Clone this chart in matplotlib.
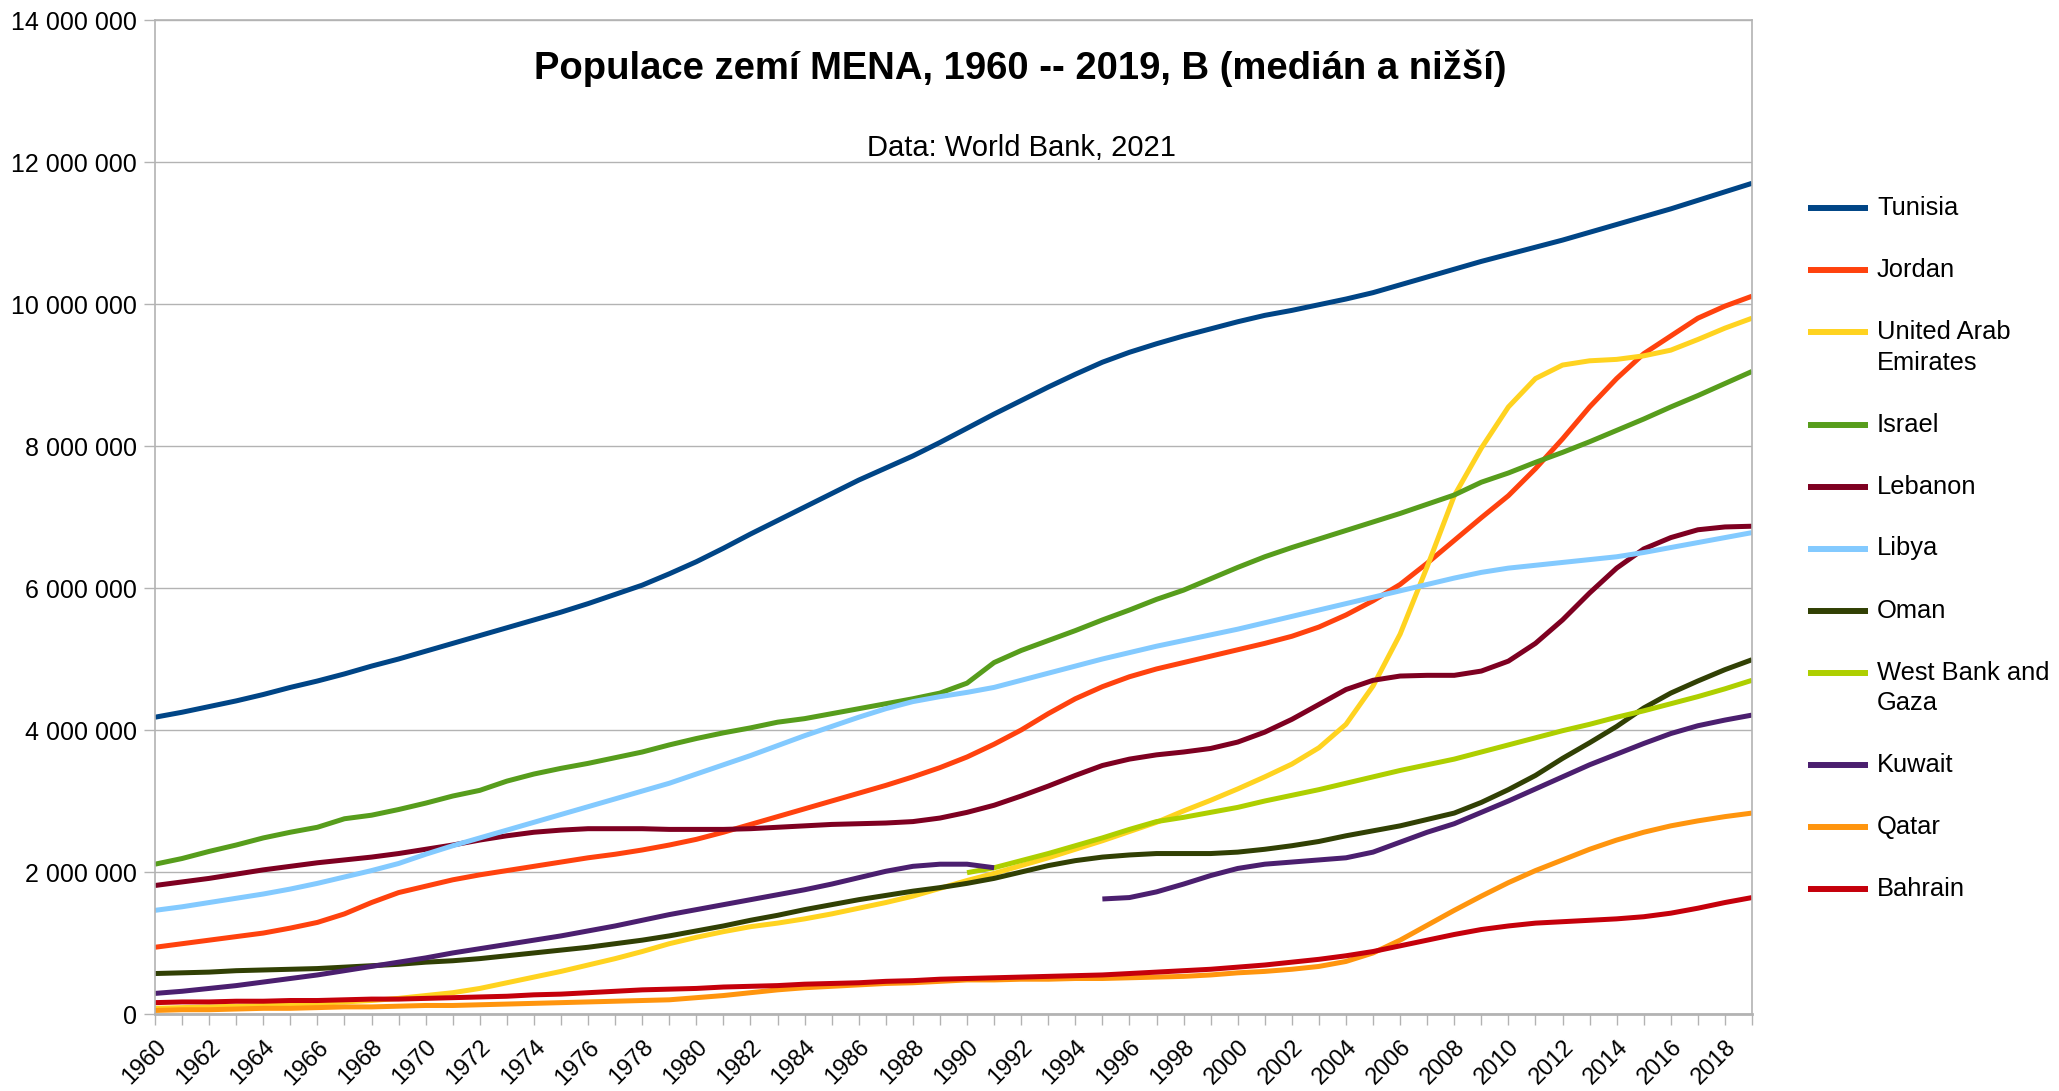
import numpy as np
import matplotlib
matplotlib.use("Agg")
import matplotlib.pyplot as plt
from matplotlib.lines import Line2D
from matplotlib.ticker import FuncFormatter

plt.rcParams['font.family'] = ['Liberation Sans', 'DejaVu Sans']

nan = np.nan
years = list(range(1960, 2020))

# populations in millions
tunisia = [4.18, 4.25, 4.33, 4.41, 4.50, 4.60, 4.69, 4.79, 4.90, 5.00,
           5.11, 5.22, 5.33, 5.44, 5.55, 5.66, 5.78, 5.91, 6.04, 6.20,
           6.37, 6.56, 6.76, 6.95, 7.14, 7.33, 7.52, 7.69, 7.86, 8.05,
           8.25, 8.45, 8.64, 8.83, 9.01, 9.18, 9.32, 9.44, 9.55, 9.65,
           9.75, 9.84, 9.91, 9.99, 10.07, 10.16, 10.27, 10.38, 10.49, 10.60,
           10.70, 10.80, 10.90, 11.01, 11.12, 11.23, 11.34, 11.46, 11.58, 11.70]
jordan = [0.94, 0.99, 1.04, 1.09, 1.14, 1.21, 1.29, 1.41, 1.57, 1.71,
          1.80, 1.89, 1.96, 2.02, 2.08, 2.14, 2.20, 2.25, 2.31, 2.38,
          2.46, 2.56, 2.67, 2.78, 2.89, 3.00, 3.11, 3.22, 3.34, 3.47,
          3.62, 3.80, 4.00, 4.23, 4.44, 4.61, 4.75, 4.86, 4.95, 5.04,
          5.13, 5.22, 5.32, 5.45, 5.62, 5.82, 6.05, 6.35, 6.67, 6.99,
          7.30, 7.68, 8.10, 8.55, 8.95, 9.30, 9.55, 9.80, 9.97, 10.11]
uae = [0.08, 0.09, 0.10, 0.11, 0.12, 0.13, 0.15, 0.17, 0.19, 0.22,
       0.26, 0.30, 0.36, 0.44, 0.52, 0.60, 0.69, 0.78, 0.88, 0.99,
       1.08, 1.16, 1.23, 1.28, 1.34, 1.41, 1.49, 1.57, 1.66, 1.77,
       1.88, 1.98, 2.09, 2.20, 2.32, 2.44, 2.57, 2.70, 2.86, 3.01,
       3.17, 3.34, 3.52, 3.75, 4.08, 4.62, 5.35, 6.30, 7.30, 7.97,
       8.55, 8.95, 9.14, 9.20, 9.22, 9.27, 9.35, 9.50, 9.66, 9.80]
israel = [2.11, 2.19, 2.29, 2.38, 2.48, 2.56, 2.63, 2.75, 2.80, 2.88,
          2.97, 3.07, 3.15, 3.28, 3.38, 3.46, 3.53, 3.61, 3.69, 3.79,
          3.88, 3.96, 4.03, 4.11, 4.16, 4.23, 4.30, 4.37, 4.44, 4.52,
          4.66, 4.95, 5.12, 5.26, 5.40, 5.55, 5.69, 5.84, 5.97, 6.13,
          6.29, 6.44, 6.57, 6.69, 6.81, 6.93, 7.05, 7.18, 7.31, 7.49,
          7.62, 7.77, 7.91, 8.06, 8.22, 8.38, 8.55, 8.71, 8.88, 9.05]
lebanon = [1.81, 1.86, 1.91, 1.97, 2.03, 2.08, 2.13, 2.17, 2.21, 2.26,
           2.32, 2.38, 2.45, 2.51, 2.56, 2.59, 2.61, 2.61, 2.61, 2.60,
           2.60, 2.60, 2.61, 2.63, 2.65, 2.67, 2.68, 2.69, 2.71, 2.76,
           2.84, 2.94, 3.07, 3.21, 3.36, 3.50, 3.59, 3.65, 3.69, 3.74,
           3.83, 3.97, 4.15, 4.36, 4.57, 4.70, 4.76, 4.77, 4.77, 4.83,
           4.97, 5.22, 5.55, 5.93, 6.28, 6.55, 6.71, 6.82, 6.86, 6.87]
libya = [1.46, 1.51, 1.57, 1.63, 1.69, 1.76, 1.84, 1.93, 2.02, 2.12,
         2.25, 2.37, 2.48, 2.59, 2.70, 2.81, 2.92, 3.03, 3.14, 3.25,
         3.38, 3.51, 3.64, 3.78, 3.92, 4.05, 4.18, 4.30, 4.40, 4.47,
         4.53, 4.60, 4.70, 4.80, 4.90, 5.00, 5.09, 5.18, 5.26, 5.34,
         5.42, 5.51, 5.60, 5.69, 5.78, 5.87, 5.96, 6.05, 6.14, 6.22,
         6.28, 6.32, 6.36, 6.40, 6.44, 6.50, 6.57, 6.64, 6.71, 6.78]
oman = [0.57, 0.58, 0.59, 0.61, 0.62, 0.63, 0.64, 0.66, 0.68, 0.70,
        0.73, 0.75, 0.78, 0.82, 0.86, 0.90, 0.94, 0.99, 1.04, 1.10,
        1.17, 1.24, 1.32, 1.39, 1.47, 1.54, 1.61, 1.67, 1.73, 1.78,
        1.84, 1.91, 2.00, 2.09, 2.16, 2.21, 2.24, 2.26, 2.26, 2.26,
        2.28, 2.32, 2.37, 2.43, 2.51, 2.58, 2.65, 2.74, 2.83, 2.98,
        3.16, 3.36, 3.60, 3.82, 4.05, 4.31, 4.52, 4.69, 4.85, 4.99]
wbg = [nan] * 30 + [1.99, 2.06, 2.16, 2.26, 2.37, 2.48, 2.60, 2.71, 2.77, 2.84,
                    2.91, 3.00, 3.08, 3.16, 3.25, 3.34, 3.43, 3.51, 3.59, 3.69,
                    3.79, 3.89, 3.99, 4.08, 4.18, 4.27, 4.37, 4.47, 4.58, 4.70]
kuwait = [0.29, 0.32, 0.36, 0.40, 0.45, 0.50, 0.55, 0.61, 0.67, 0.73,
          0.79, 0.86, 0.92, 0.98, 1.04, 1.10, 1.17, 1.24, 1.32, 1.40,
          1.47, 1.54, 1.61, 1.68, 1.75, 1.83, 1.92, 2.01, 2.08, 2.11,
          2.11, 2.06, nan, nan, nan, 1.62, 1.64, 1.72, 1.83, 1.95,
          2.05, 2.11, 2.14, 2.17, 2.20, 2.28, 2.42, 2.56, 2.68, 2.84,
          3.00, 3.17, 3.34, 3.51, 3.66, 3.81, 3.95, 4.06, 4.14, 4.21]
qatar = [0.05, 0.06, 0.06, 0.07, 0.08, 0.08, 0.09, 0.10, 0.10, 0.11,
         0.12, 0.12, 0.13, 0.14, 0.15, 0.16, 0.17, 0.18, 0.19, 0.20,
         0.23, 0.26, 0.30, 0.34, 0.37, 0.39, 0.41, 0.43, 0.44, 0.46,
         0.48, 0.48, 0.49, 0.49, 0.50, 0.50, 0.51, 0.52, 0.53, 0.55,
         0.58, 0.60, 0.63, 0.67, 0.74, 0.86, 1.04, 1.25, 1.46, 1.66,
         1.85, 2.02, 2.17, 2.32, 2.45, 2.56, 2.65, 2.72, 2.78, 2.83]
bahrain = [0.16, 0.17, 0.17, 0.18, 0.18, 0.19, 0.19, 0.20, 0.21, 0.21,
           0.22, 0.23, 0.24, 0.25, 0.27, 0.28, 0.30, 0.32, 0.34, 0.35,
           0.36, 0.38, 0.39, 0.40, 0.42, 0.43, 0.44, 0.46, 0.47, 0.49,
           0.50, 0.51, 0.52, 0.53, 0.54, 0.55, 0.57, 0.59, 0.61, 0.63,
           0.66, 0.69, 0.73, 0.77, 0.82, 0.88, 0.96, 1.04, 1.12, 1.19,
           1.24, 1.28, 1.30, 1.32, 1.34, 1.37, 1.42, 1.49, 1.57, 1.64]

names = ["Tunisia", "Jordan", "United Arab\nEmirates", "Israel", "Lebanon", "Libya",
         "Oman", "West Bank and\nGaza", "Kuwait", "Qatar", "Bahrain"]
series = [tunisia, jordan, uae, israel, lebanon, libya, oman, wbg, kuwait, qatar, bahrain]
colors = ["#004586", "#ff420e", "#ffd320", "#579d1c", "#7e0021", "#83caff",
          "#314004", "#aecf00", "#4b1f6f", "#ff950e", "#c5000b"]

W, H = 2059, 1091
fig = plt.figure(figsize=(W / 100, H / 100), dpi=100)
ax = fig.add_axes([155 / W, 1 - 1014 / H, (1752 - 155) / W, (1014 - 20) / H])

for vals, c in zip(series, colors):
    ax.plot(years, np.array(vals) * 1e6, color=c, lw=3.6, solid_capstyle='butt',
            solid_joinstyle='round')

grid_c = "#b3b3b3"
ax.set_xlim(1960, 2019)
ax.set_ylim(0, 14e6)
ax.set_yticks(np.arange(0, 14e6 + 1, 2e6))
ax.yaxis.set_major_formatter(FuncFormatter(lambda v, p: f"{int(v):,}".replace(",", " ")))
ax.set_xticks(years)
ax.set_xticklabels([str(y) if y % 2 == 0 else "" for y in years],
                   rotation=45, ha='right', va='top', rotation_mode='anchor')
ax.grid(axis='y', color=grid_c, lw=1)
ax.set_axisbelow(True)
for s in ax.spines.values():
    s.set_color(grid_c)
    s.set_linewidth(1.2)
ax.spines['bottom'].set_linewidth(2)
ax.tick_params(axis='x', length=8, width=1, color=grid_c, labelsize=17, pad=8)
ax.tick_params(axis='y', length=8, width=1, color=grid_c, labelsize=18, pad=5)

fig.text(1020 / W, 1 - 68 / H, "Populace zemí MENA, 1960 -- 2019, B (medián a nižší)",
         ha='center', va='center', fontsize=27.5, fontweight='bold')
fig.text(1021 / W, 1 - 148 / H, "Data: World Bank, 2021",
         ha='center', va='center', fontsize=21)

# legend on the right, handle aligned with the first text line
y = 208
for name, c in zip(names, colors):
    fig.add_artist(Line2D([1808 / W, 1868 / W], [1 - y / H, 1 - y / H],
                          color=c, lw=4.3, solid_capstyle='butt'))
    lines = name.split("\n")
    for k, line in enumerate(lines):
        fig.text(1877 / W, 1 - (y + 30.5 * k) / H, line, ha='left', va='center',
                 fontsize=18.4)
    y += 62 + 30.5 * (len(lines) - 1)

fig.savefig("out.png", dpi=100)
